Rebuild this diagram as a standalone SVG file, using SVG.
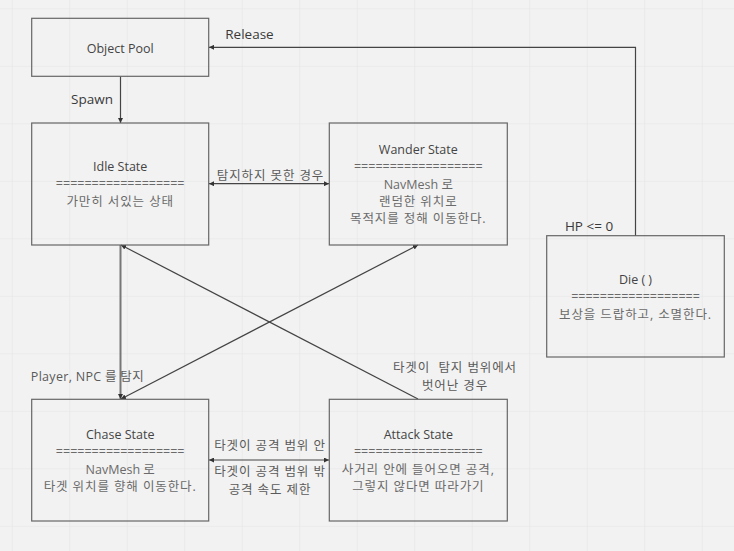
<svg xmlns="http://www.w3.org/2000/svg" width="734" height="551" viewBox="0 0 734 551">
<defs>
<pattern id="grid" x="11.7" y="8.3" width="57.5" height="57.5" patternUnits="userSpaceOnUse">
<path d="M0 0H57.5M0 0V57.5" fill="none" stroke="#e4e4e4" stroke-width="1.2"/>
</pattern>
<marker id="ah" viewBox="0 0 6 6" refX="6" refY="3" markerWidth="5" markerHeight="5" markerUnits="userSpaceOnUse" orient="auto-start-reverse">
<path d="M0 0L6 3L0 6Z" fill="#333"/>
</marker>
<style>
.box{fill:none;stroke:#666;stroke-width:1.2}
.t{font-family:"Open Sans","Noto Sans CJK KR",sans-serif;font-size:12.5px;font-weight:400;text-anchor:middle;dominant-baseline:central}
.ti{fill:#444}
.bd{fill:#6a6a6a}
.k{letter-spacing:0.9px}
.el{font-family:"Open Sans","Noto Sans CJK KR",sans-serif;font-size:13.5px;font-weight:400;fill:#3a3a3a;text-anchor:middle;dominant-baseline:central}
.kl{font-family:"Open Sans","Noto Sans CJK KR",sans-serif;font-size:12.5px;font-weight:400;fill:#5a5a5a;text-anchor:middle;dominant-baseline:central;letter-spacing:0.9px}
.c{fill:none;stroke:#444;stroke-width:1.2}
.cg{fill:none;stroke:#777;stroke-width:2}
</style>
</defs>
<rect width="734" height="551" fill="#f2f2f2"/>
<rect width="734" height="551" fill="url(#grid)"/>

<g id="connectors">
<path class="c" d="M635.5 236V47.3H209" marker-end="url(#ah)"/>
<path class="c" d="M120.5 76.5V123" marker-end="url(#ah)"/>
<path class="c" d="M209 183.7H329" marker-start="url(#ah)" marker-end="url(#ah)"/>
<path class="cg" d="M120.5 245V399" marker-end="url(#ah)"/>
<path class="c" d="M418 245L121 399" marker-start="url(#ah)" marker-end="url(#ah)"/>
<path class="c" d="M418 399L121 245" marker-end="url(#ah)"/>
<path class="c" d="M209 460H329" marker-start="url(#ah)" marker-end="url(#ah)"/>
<text class="el" x="249.5" y="34">Release</text>
<text class="el" x="92" y="99">Spawn</text>
<text class="kl" x="270.5" y="175.5">탐지하지 못한 경우</text>
<text class="el" x="589" y="225.7">HP &lt;= 0</text>
<text class="kl" x="87.4" y="376.7" style="letter-spacing:0.3px">Player, NPC 를 탐지</text>
<text class="kl" x="270" y="445">타겟이 공격 범위 안</text>
<text class="kl" x="270" y="471.7">타겟이 공격 범위 밖</text>
<text class="kl" x="270" y="489.3">공격 속도 제한</text>
<text class="kl" x="455" y="367.7" xml:space="preserve">타겟이  탐지 범위에서</text>
<text class="kl" x="455" y="385">벗어난 경우</text>
</g>

<g id="object-pool">
<rect class="box" x="31.7" y="18.3" width="177" height="58"/>
<text class="t ti" x="120.2" y="48">Object Pool</text>
</g>

<g id="idle-state">
<rect class="box" x="31.7" y="123" width="177" height="122"/>
<text class="t ti" x="120.2" y="166.7">Idle State</text>
<text class="t bd" x="120.2" y="183.7">==================</text>
<text class="t bd k" x="120.2" y="201.7">가만히 서있는 상태</text>
</g>

<g id="wander-state">
<rect class="box" x="329.3" y="123" width="178" height="122"/>
<text class="t ti" x="418.3" y="149.3">Wander State</text>
<text class="t bd" x="418.3" y="166.7">==================</text>
<text class="t bd" x="418.3" y="184">NavMesh 로</text>
<text class="t bd k" x="418.3" y="201">랜덤한 위치로</text>
<text class="t bd k" x="418.3" y="218.7">목적지를 정해 이동한다.</text>
</g>

<g id="die">
<rect class="box" x="546.7" y="235.7" width="177.6" height="121.3"/>
<text class="t ti" x="635.5" y="279.3">Die ( )</text>
<text class="t bd" x="635.5" y="296.7">==================</text>
<text class="t bd k" x="635.5" y="314">보상을 드랍하고, 소멸한다.</text>
</g>

<g id="chase-state">
<rect class="box" x="31.7" y="399.3" width="177" height="121.7"/>
<text class="t ti" x="120.2" y="434.3">Chase State</text>
<text class="t bd" x="120.2" y="451.7">==================</text>
<text class="t bd" x="120.2" y="469.3">NavMesh 로</text>
<text class="t bd k" x="120.2" y="486.7">타겟 위치를 향해 이동한다.</text>
</g>

<g id="attack-state">
<rect class="box" x="329.3" y="399.3" width="178" height="121.7"/>
<text class="t ti" x="418.3" y="434.3">Attack State</text>
<text class="t bd" x="418.3" y="451.7">==================</text>
<text class="t bd k" x="418.3" y="469.3">사거리 안에 들어오면 공격,</text>
<text class="t bd k" x="418.3" y="486.7">그렇지 않다면 따라가기</text>
</g>
</svg>
